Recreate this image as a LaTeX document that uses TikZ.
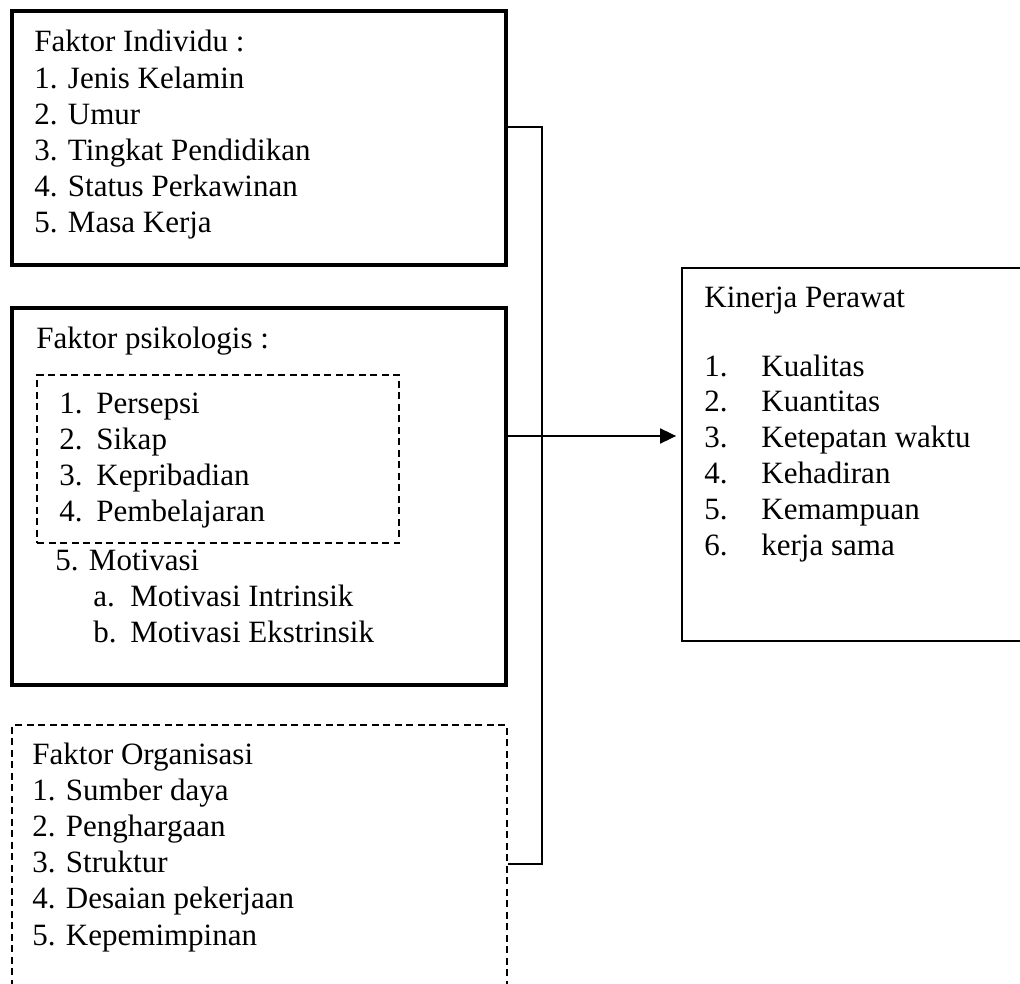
\documentclass[tikz,border=0pt]{standalone}
\usepackage{fontspec}
\setmainfont{Liberation Serif}
\usetikzlibrary{fit,arrows.meta}
\begin{document}
\begin{tikzpicture}[x=0.5pt,y=-0.5pt,
  thickbox/.style={draw, line width=1.75pt, inner sep=0pt, line join=miter},
  thinbox/.style={draw, line width=0.9pt, inner sep=0pt},
  dashbox/.style={draw, line width=0.9pt, inner sep=0pt, dash pattern=on 3.5pt off 2.25pt},
  conn/.style={line width=0.85pt},
  txt/.style={anchor=base west, inner sep=0pt, font=\fontsize{15.5}{18}\selectfont},
]
\useasboundingbox (0,0) rectangle (1020,983);

% boxes
\node[thickbox, fit={(12,11)(506,265)}] (ind) {};
\node[thickbox, fit={(12,308)(506,685)}] (psi) {};
\node[dashbox, fit={(37,375)(399,543)}] (psiin) {};
\node[dashbox, fit={(12,725)(507,1010)}] (org) {};
\node[thinbox, fit={(682,268)(1060,641)}] (kin) {};

% Faktor Individu
\node[txt] (i0) at (34,52) {Faktor Individu :};
\node[txt] (i1) at (34,88.2) {1. Jenis Kelamin};
\node[txt] (i2) at (34,124.4) {2. Umur};
\node[txt] (i3) at (34,160.6) {3. Tingkat Pendidikan};
\node[txt] (i4) at (34,196.8) {4. Status Perkawinan};
\node[txt] (i5) at (34,233) {5. Masa Kerja};

% Faktor psikologis
\node[txt] (p0) at (36,349) {Faktor psikologis :};
\node[txt] (p1) at (59,413) {\makebox[18.5pt][l]{1.}Persepsi};
\node[txt] (p2) at (59,449) {\makebox[18.5pt][l]{2.}Sikap};
\node[txt] (p3) at (59,485) {\makebox[18.5pt][l]{3.}Kepribadian};
\node[txt] (p4) at (59,521) {\makebox[18.5pt][l]{4.}Pembelajaran};
\node[txt] (p5) at (55,570) {5. Motivasi};
\node[txt] (p6) at (93,606) {\makebox[18.5pt][l]{a.}Motivasi Intrinsik};
\node[txt] (p7) at (93,642) {\makebox[18.5pt][l]{b.}Motivasi Ekstrinsik};

% Faktor Organisasi
\node[txt] (o0) at (32,764) {Faktor Organisasi};
\node[txt] (o1) at (32,800.2) {1. Sumber daya};
\node[txt] (o2) at (32,836.4) {2. Penghargaan};
\node[txt] (o3) at (32,872.6) {3. Struktur};
\node[txt] (o4) at (32,908.8) {4. Desaian pekerjaan};
\node[txt] (o5) at (32,945) {5. Kepemimpinan};

% Kinerja Perawat
\node[txt] (k0) at (704,308) {Kinerja Perawat};
\node[txt] (k1) at (704,376) {\makebox[28.5pt][l]{1.}Kualitas};
\node[txt] (k2) at (704,411.8) {\makebox[28.5pt][l]{2.}Kuantitas};
\node[txt] (k3) at (704,447.6) {\makebox[28.5pt][l]{3.}Ketepatan waktu};
\node[txt] (k4) at (704,483.4) {\makebox[28.5pt][l]{4.}Kehadiran};
\node[txt] (k5) at (704,519.2) {\makebox[28.5pt][l]{5.}Kemampuan};
\node[txt] (k6) at (704,555) {\makebox[28.5pt][l]{6.}kerja sama};

% connectors
\coordinate (j1) at (542,127);
\coordinate (j2) at (542,436);
\coordinate (j3) at (542,864);
\draw[conn] (ind.east |- j1) -- (j1) -- (j3) -- (org.east |- j3);
\draw[conn, -{Triangle[length=8pt,width=7.5pt]}, shorten >=2.5pt] (psi.east |- j2) -- (kin.west |- j2);
\end{tikzpicture}
\end{document}
